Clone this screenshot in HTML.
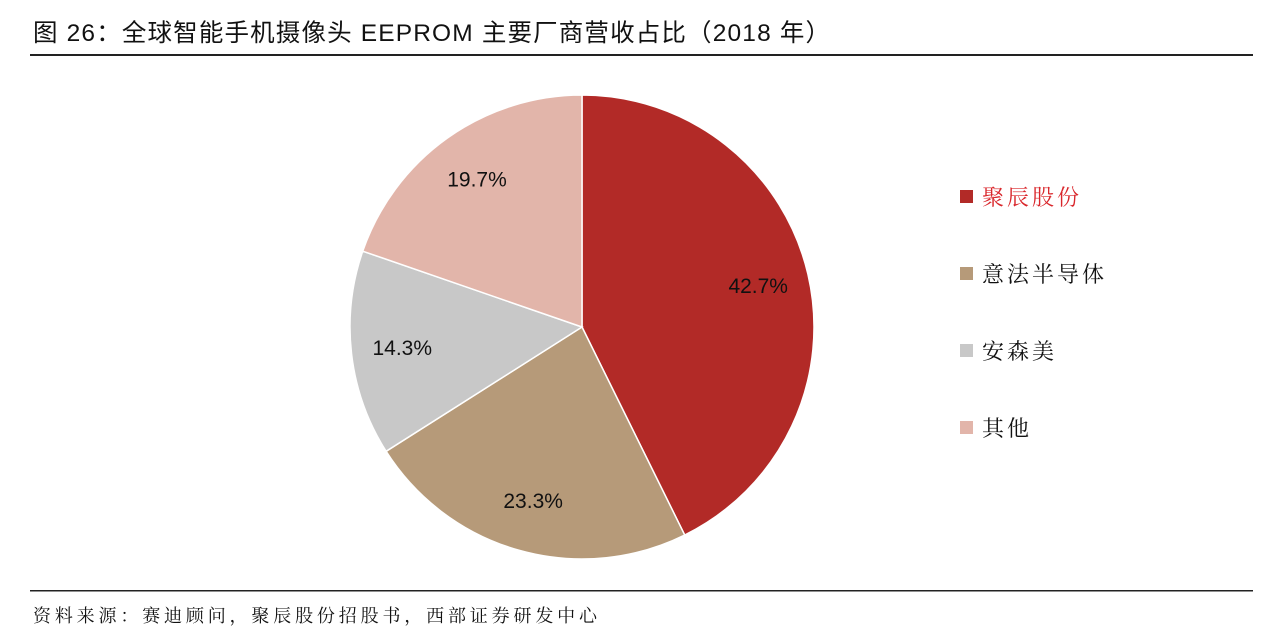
<!DOCTYPE html>
<html><head><meta charset="utf-8"><style>
body{margin:0;background:#fff;width:1269px;height:643px;overflow:hidden;}
svg{display:block}
</style></head><body>
<svg width="1269" height="643">
<text x="33" y="41" font-family="'Liberation Sans','Noto Sans CJK SC',sans-serif" font-size="24.5" fill="#111" textLength="797">图 26：全球智能手机摄像头 EEPROM 主要厂商营收占比（2018 年）</text>
<rect x="30" y="54" width="1223" height="2" fill="#222"/>
<g id="pie"></g>
<g id="legend"></g>
<rect x="30" y="590" width="1223" height="1.5" fill="#222"/>
<text x="33" y="622" font-family="'Noto Serif CJK SC',serif" font-size="18" fill="#111" textLength="564">资料来源：赛迪顾问，聚辰股份招股书，西部证券研发中心</text>
</svg>
<script>
const categories=["聚辰股份","意法半导体","安森美","其他"];
const values=[42.7,23.3,14.3,19.7];
const labels=["42.7%","23.3%","14.3%","19.7%"];
const colors=["#b22a27","#b69a79","#c8c8c8","#e2b5aa"];
const NS="http://www.w3.org/2000/svg";
const cx=582,cy=327,r=232;
const pie=document.getElementById('pie');
const total=values.reduce((a,b)=>a+b,0);
let a0=0;
values.forEach((v,i)=>{
  const a1=a0+v/total*2*Math.PI;
  const p=(a)=>[cx+r*Math.sin(a),cy-r*Math.cos(a)];
  const [x0,y0]=p(a0),[x1,y1]=p(a1);
  const path=document.createElementNS(NS,'path');
  path.setAttribute('d',`M${cx},${cy}L${x0},${y0}A${r},${r} 0 ${a1-a0>Math.PI?1:0} 1 ${x1},${y1}Z`);
  path.setAttribute('fill',colors[i]);path.setAttribute('stroke','#fff');path.setAttribute('stroke-width','1.5');
  
  
  pie.appendChild(path);
  const am=(a0+a1)/2,lr=r*0.78;
  const t=document.createElementNS(NS,'text');
  t.setAttribute('x',cx+lr*Math.sin(am));t.setAttribute('y',cy-lr*Math.cos(am)+7);
  t.setAttribute('text-anchor','middle');t.setAttribute('font-family','Liberation Sans, sans-serif');
  t.setAttribute('font-size','21');t.setAttribute('fill','#111');
  t.textContent=labels[i];
  
  
  pie.appendChild(t);
  a0=a1;
});
const lg=document.getElementById('legend');
categories.forEach((c,i)=>{
  const y=197+i*77;
  const s=document.createElementNS(NS,'rect');
  s.setAttribute('x',960);s.setAttribute('y',y-7);s.setAttribute('width',13);s.setAttribute('height',13);s.setAttribute('fill',colors[i]);
  
  
  lg.appendChild(s);
  const t=document.createElementNS(NS,'text');
  t.setAttribute('x',982);t.setAttribute('y',y+8);t.setAttribute('font-family','Noto Serif CJK SC, serif');
  t.setAttribute('font-size','22');t.setAttribute('letter-spacing','3');t.setAttribute('fill',i===0?'#d9262b':'#111');
  t.textContent=c;
  
  
  lg.appendChild(t);
});
</script>
</body></html>
